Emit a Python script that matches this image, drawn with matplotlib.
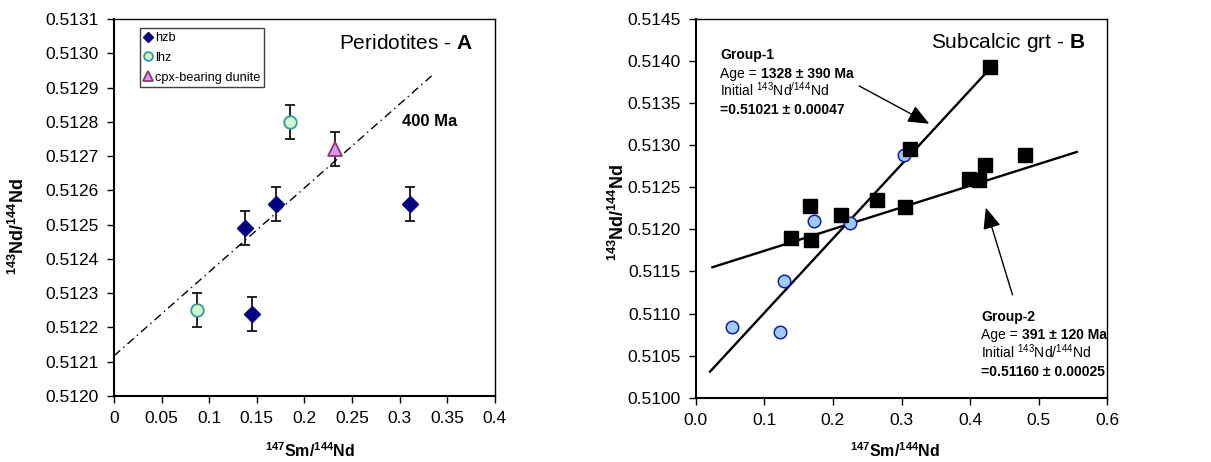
import matplotlib
matplotlib.use("Agg")
import matplotlib.pyplot as plt

plt.rcParams['font.family'] = ['Liberation Sans', 'DejaVu Sans']
plt.rcParams['mathtext.fontset'] = 'custom'
plt.rcParams['mathtext.rm'] = 'Liberation Sans'
plt.rcParams['mathtext.it'] = 'Liberation Sans'
plt.rcParams['mathtext.bf'] = 'Liberation Sans:bold'

# ---- Panel A: peridotites ----
hzb_x = [0.138, 0.145, 0.170, 0.311]
hzb_y = [0.51249, 0.51224, 0.51256, 0.51256]
lhz_x = [0.087, 0.185]
lhz_y = [0.51225, 0.51280]
dun_x = [0.232]
dun_y = [0.51272]
err_a = 0.00005
ref400_x = [0.0, 0.3335]
ref400_y = [0.512117, 0.512934]

# ---- Panel B: subcalcic garnets ----
sq_x = [0.429, 0.313, 0.1666, 0.1385, 0.1686, 0.2123, 0.2638, 0.3051,
        0.3989, 0.4134, 0.4217, 0.4795]
sq_y = [0.51393, 0.51296, 0.51228, 0.51190, 0.51187, 0.51217, 0.51235,
        0.51226, 0.51260, 0.51259, 0.51277, 0.51288]
ci_x = [0.0525, 0.1229, 0.1283, 0.1730, 0.2254, 0.3036]
ci_y = [0.51084, 0.51078, 0.51139, 0.51210, 0.51208, 0.51288]
g1_x = [0.0209, 0.430]
g1_y = [0.51031, 0.51392]
g2_x = [0.0243, 0.5555]
g2_y = [0.51155, 0.51292]

fig = plt.figure(figsize=(12.11, 4.62), dpi=100)
axA = fig.add_axes([0.0941, 0.1429, 0.3146, 0.816])
axB = fig.add_axes([0.5745, 0.1392, 0.3399, 0.8197])

tick_fs = 12.5
ylab = r'$\mathbf{^{143}Nd/^{144}Nd}$'
xlab = r'$\mathbf{^{147}Sm/^{144}Nd}$'

# Panel A
axA.plot(ref400_x, ref400_y, color='black', lw=1.0, ls=(0, (6, 3, 1, 3)), zorder=1)
eb_kw = dict(fmt='none', ecolor='black', elinewidth=1.2, capsize=3.8, capthick=1.2, zorder=2)
axA.errorbar(hzb_x, hzb_y, yerr=err_a, **eb_kw)
axA.errorbar(lhz_x, lhz_y, yerr=err_a, **eb_kw)
axA.errorbar(dun_x, dun_y, yerr=err_a, **eb_kw)
axA.plot(hzb_x, hzb_y, 'D', ms=8, mfc='#000080', mec='#000080', ls='none', label='hzb', zorder=3)
axA.plot(lhz_x, lhz_y, 'o', ms=9, mfc='#ccffcc', mec='#339999', mew=1.3, ls='none', label='lhz', zorder=3)
axA.plot(dun_x, dun_y, '^', ms=10, mfc='#cc99ff', mec='#993366', mew=1.3, ls='none',
         label='cpx-bearing dunite', zorder=3)
axA.set_xlim(0, 0.4)
axA.set_ylim(0.5120, 0.5131)
axA.set_xticks([0, 0.05, 0.1, 0.15, 0.2, 0.25, 0.3, 0.35, 0.4])
axA.set_xticklabels(['0', '0.05', '0.1', '0.15', '0.2', '0.25', '0.3', '0.35', '0.4'])
yt = [0.5120 + 0.0001 * i for i in range(12)]
axA.set_yticks(yt)
axA.set_yticklabels([f'{v:.4f}' for v in yt])
axA.text(0.302, 0.51280, '400 Ma', fontsize=12, fontweight='bold', va='center', ha='left')
axA.text(0.942, 0.936, r'Peridotites $\mathbf{\text{-}\ A}$', transform=axA.transAxes,
         fontsize=15, ha='right', va='center')
leg = axA.legend(loc='upper left', bbox_to_anchor=(0.068, 0.975), fontsize=9.2,
                 frameon=True, fancybox=False, edgecolor='#404040', framealpha=1,
                 handlelength=0.6, handletextpad=0.3, borderpad=0.3, labelspacing=0.6,
                 borderaxespad=0.0, markerscale=0.7)
leg.get_frame().set_linewidth(1.0)
axA.set_ylabel(ylab, fontsize=13)
axA.set_xlabel(xlab, fontsize=11.5)
axA.yaxis.set_label_coords(-0.226, 0.45)
axA.xaxis.set_label_coords(0.514, -0.119)

# Panel B
axB.plot(g1_x, g1_y, color='black', lw=1.7, zorder=1)
axB.plot(g2_x, g2_y, color='black', lw=1.7, zorder=1)
axB.plot(ci_x, ci_y, 'o', ms=9, mfc='#99ccff', mec='#1a1aa6', mew=1.1, ls='none', zorder=2)
axB.plot(sq_x, sq_y, 's', ms=10, mfc='black', mec='black', ls='none', zorder=3)
axB.set_xlim(0, 0.6)
axB.set_ylim(0.5100, 0.5145)
xtB = [0.0, 0.1, 0.2, 0.3, 0.4, 0.5, 0.6]
axB.set_xticks(xtB)
axB.set_xticklabels([f'{v:.1f}' for v in xtB])
ytB = [0.5100 + 0.0005 * i for i in range(10)]
axB.set_yticks(ytB)
axB.set_yticklabels([f'{v:.4f}' for v in ytB])
axB.text(0.946, 0.937, r'Subcalcic grt - $\mathbf{B}$', transform=axB.transAxes,
         fontsize=15, ha='right', va='center')

txt_fs = 10
line_step = 0.000218


def group_block(ax, x, y0, name, age, init_label, init_value):
    ax.text(x, y0, name, fontsize=txt_fs, fontweight='bold', va='baseline', ha='left')
    t = ax.text(x, y0 - line_step, 'Age = ', fontsize=txt_fs, va='baseline', ha='left')
    ax.annotate(age, xy=(1, 0), xycoords=t, fontsize=txt_fs, fontweight='bold',
                va='bottom', ha='left')
    ax.text(x, y0 - 2 * line_step, init_label, fontsize=txt_fs, va='baseline', ha='left')
    ax.text(x, y0 - 3 * line_step, init_value, fontsize=txt_fs, fontweight='bold',
            va='baseline', ha='left')


group_block(axB, 0.0355, 0.51402, 'Group-1', '1328 ± 390 Ma',
            r'Initial $^{143}$Nd$^{/144}$Nd', '=0.51021 ± 0.00047')
group_block(axB, 0.416, 0.51091, 'Group-2', '391 ± 120 Ma',
            r'Initial $^{143}$Nd/$^{144}$Nd', '=0.51160 ± 0.00025')

arrow_kw = dict(arrowstyle='-|>,head_length=1.3,head_width=0.55', color='black', lw=1.0)
axB.annotate('', xy=(0.344, 0.51324), xytext=(0.2347, 0.51372), arrowprops=arrow_kw)
axB.annotate('', xy=(0.4217, 0.51229), xytext=(0.463, 0.51119), arrowprops=arrow_kw)

axB.set_ylabel(ylab, fontsize=13)
axB.set_xlabel(xlab, fontsize=11.5)
axB.yaxis.set_label_coords(-0.164, 0.49)
axB.xaxis.set_label_coords(0.484, -0.114)

for ax in (axA, axB):
    ax.tick_params(direction='out', length=5, width=1, labelsize=tick_fs, pad=6)
    for sp in ax.spines.values():
        sp.set_linewidth(1.0)
    ax.spines['left'].set_linewidth(1.5)
    ax.spines['bottom'].set_linewidth(1.5)

fig.savefig('out.png', dpi=100)
